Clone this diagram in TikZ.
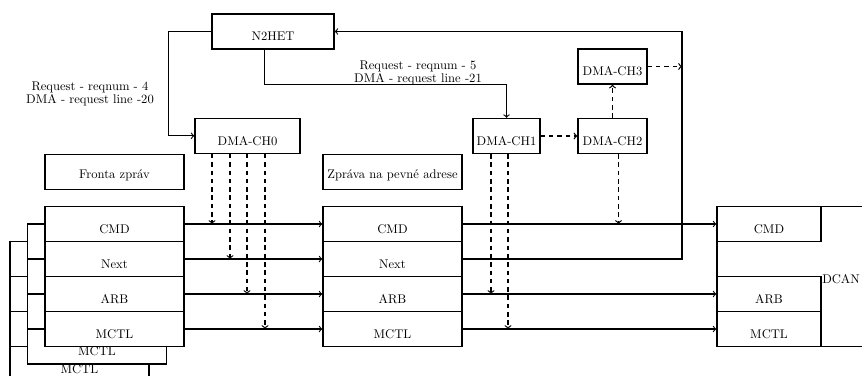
\documentclass[tikz,border=0pt]{standalone}
\usetikzlibrary{calc}
% one drawing unit
\newcommand{\pxu}{0.794pt}
\begin{document}
\begin{tikzpicture}[x=\pxu, y=-\pxu,
  box/.style={draw, line width=1pt, fill=white, inner sep=0pt,
    minimum height=35*\pxu, text height=15pt, text depth=0pt},
  row/.style={box, minimum width=139*\pxu},
  lowtext/.style={text height=10.4pt},
  conn/.style={line width=0.9pt, ->},
  tap/.style={line width=1pt, dash pattern=on 3.6pt off 3pt, ->},
  note/.style={align=center, font=\fontsize{10pt}{10.6pt}\selectfont, inner sep=0pt}]
\useasboundingbox (0,0) rectangle (862,376);
\clip (0,0) rectangle (862,376);

% controller and DMA channels
\node[box, minimum width=122*\pxu] (n2het) at (273,31.5) {N2HET};
\node[box, minimum width=105*\pxu] (ch0) at (247.5,135.8) {DMA-CH0};
\node[box, minimum width=67*\pxu] (ch1) at (506.5,136) {DMA-CH1};
\node[box, minimum width=69*\pxu] (ch2) at (612.5,136) {DMA-CH2};
\node[box, minimum width=69*\pxu] (ch3) at (612.5,66.5) {DMA-CH3};

% column headings
\node[row, lowtext] (fronta) at (114.5,172) {Fronta zpráv};
\node[row, lowtext] (pevna) at (392.5,172) {Zpráva na pevné adrese};

% message queue: stacked copies behind the first message
\node[row] (q3a) at (79.5,259) {};
\node[row] (q3b) at (79.5,294) {};
\node[row] (q3c) at (79.5,329) {};
\node[row] (q3d) at (79.5,364) {MCTL};
\node[row] (q2a) at (97,241.5) {};
\node[row] (q2b) at (97,276.5) {};
\node[row] (q2c) at (97,311.5) {};
\node[row] (q2d) at (97,346.5) {MCTL};
\node[row] (cmdA) at (114.5,224) {CMD};
\node[row] (nextA) at (114.5,259) {Next};
\node[row] (arbA) at (114.5,294) {ARB};
\node[row] (mctlA) at (114.5,329) {MCTL};

% message at the fixed address
\node[row] (cmdB) at (392.5,224) {CMD};
\node[row] (nextB) at (392.5,259) {Next};
\node[row] (arbB) at (392.5,294) {ARB};
\node[row] (mctlB) at (392.5,329) {MCTL};

% DCAN message object
\node[draw, line width=1pt, inner sep=0pt, minimum width=163*\pxu,
  minimum height=140*\pxu] (dcan) at (798.5,276.5) {};
\node[box, minimum width=104*\pxu] (cmdC) at (769,224) {CMD};
\node[box, minimum width=104*\pxu] (arbC) at (769,294) {ARB};
\node[box, minimum width=104*\pxu] (mctlC) at (769,329) {MCTL};
\node[anchor=base west, inner sep=0pt] (dcanlbl) at (822,283.3) {DCAN};

% request lines from N2HET
\node[note] (req4) at (90,93.9) {Request - reqnum - 4\\DMA - request line -20};
\node[note] (req5) at (418,72.9) {Request - reqnum - 5\\DMA - request line -21};
\draw[conn] (n2het.west) -- ++(-43,0) |- (ch0.west);
\draw[conn] ($(n2het.south)+(-8.5,0)$) -- ++(0,34.5) -| (ch1.north);

% channel chaining
\coordinate (ret) at (682,150);
\draw[tap] (ch1.east) -- (ch2.west);
\draw[tap] (ch2.north) -- (ch3.south);
\draw[tap] (ch3.east) -- (ch3.east -| ret);

% data paths
\draw[conn] (cmdA.east) -- (cmdB.west);
\draw[conn] (nextA.east) -- (nextB.west);
\draw[conn] (arbA.east) -- (arbB.west);
\draw[conn] (mctlA.east) -- (mctlB.west);
\draw[conn] (cmdB.east) -- (cmdC.west);
\draw[conn] (arbB.east) -- (arbC.west);
\draw[conn] (mctlB.east) -- (mctlC.west);
\draw[conn] (nextB.east) -| (ret) |- (n2het.east);

% DMA transfers onto the data paths
\coordinate (t0a) at ($(ch0.south)+(-35.5,0)$);
\coordinate (t0b) at ($(ch0.south)+(-17.5,0)$);
\coordinate (t0c) at ($(ch0.south)+(-0.5,0)$);
\coordinate (t0d) at ($(ch0.south)+(17.5,0)$);
\coordinate (t1a) at ($(ch1.south)+(-15.5,0)$);
\coordinate (t1b) at ($(ch1.south)+(1.5,0)$);
\coordinate (t2) at ($(ch2.south)+(6,0)$);
\draw[tap] (t0a) -- (t0a |- cmdA.east);
\draw[tap] (t0b) -- (t0b |- nextA.east);
\draw[tap] (t0c) -- (t0c |- arbA.east);
\draw[tap] (t0d) -- (t0d |- mctlA.east);
\draw[tap] (t1a) -- (t1a |- arbB.east);
\draw[tap] (t1b) -- (t1b |- mctlB.east);
\draw[tap] (t2) -- (t2 |- cmdC.west);
\end{tikzpicture}
\end{document}
